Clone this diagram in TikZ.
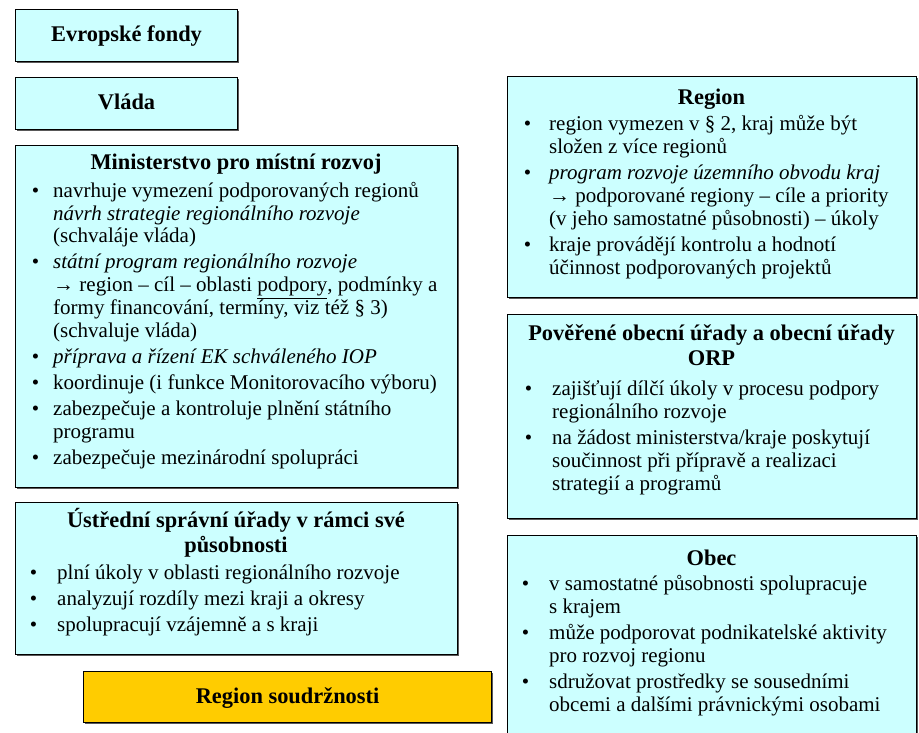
\documentclass[tikz,border=0pt]{standalone}
\usepackage{fontspec}
\setmainfont{Liberation Serif}
\usetikzlibrary{shadows,calc}
\definecolor{boxcyan}{HTML}{CCFFFF}
\definecolor{boxgold}{HTML}{FFCC00}
\newcommand\bl[1]{\llap{\textbullet\hspace{#1}}}
\tikzset{
  cbox/.style={draw=black, line width=1.1pt, fill=boxcyan, anchor=north west, inner sep=0pt,
    general shadow={fill=black!65, shadow xshift=1.2pt, shadow yshift=-1.2pt}},
  gbox/.style={cbox, fill=boxgold},
  ttl/.style={inner sep=0pt, anchor=base, font=\fontsize{22.4}{25}\selectfont\bfseries},
  lst/.style={inner sep=0pt, anchor=base west, font=\fontsize{21}{23}\selectfont},
}
\begin{document}
\begin{tikzpicture}[x=1pt, y=-1pt]
\useasboundingbox (0,0) rectangle (919,733);
\clip (0,0) rectangle (919,733);

% left column
\node[cbox, minimum width=222pt, minimum height=52pt] (ef) at (15,9) {};
\node[ttl] (eft) at ($(ef.center)+(0,6)$) {Evropské fondy};

\node[cbox, minimum width=222pt, minimum height=52pt] (vl) at (15,77) {};
\node[ttl] (vlt) at ($(vl.center)+(0,6)$) {Vláda};

\node[cbox, minimum width=442pt, minimum height=342pt] (min) at (15,145) {};
\node[ttl] (mint) at (236,170) {Ministerstvo pro místní rozvoj};
\node[lst] (minl) at (53,197) {\begin{tabular}[t]{@{}l@{}}
\bl{14pt}navrhuje vymezení podporovaných regionů\\
\textit{návrh strategie regionálního rozvoje}\\
(schvaláje vláda)\\[3pt]
\bl{14pt}\textit{státní program regionálního rozvoje}\\
→ region – cíl – oblasti \underline{podpory}, podmínky a\\
formy financování, termíny, viz též § 3)\\
(schvaluje vláda)\\[3pt]
\bl{14pt}\textit{příprava a řízení EK schváleného IOP}\\[3pt]
\bl{14pt}koordinuje (i funkce Monitorovacího výboru)\\[3pt]
\bl{14pt}zabezpečuje a kontroluje plnění státního\\
programu\\[3pt]
\bl{14pt}zabezpečuje mezinárodní spolupráci
\end{tabular}};

\node[cbox, minimum width=442pt, minimum height=152pt] (ust) at (15,502) {};
\node[ttl] (ustt) at (236,527) {\begin{tabular}[t]{@{}c@{}}Ústřední správní úřady v rámci své\\ působnosti\end{tabular}};
\node[lst] (ustl) at (57,579) {\begin{tabular}[t]{@{}l@{}}
\bl{20pt}plní úkoly v oblasti regionálního rozvoje\\[3pt]
\bl{20pt}analyzují rozdíly mezi kraji a okresy\\[3pt]
\bl{20pt}spolupracují vzájemně a s kraji
\end{tabular}};

\node[gbox, minimum width=408pt, minimum height=51pt] (rs) at (83,671) {};
\node[ttl] (rst) at ($(rs.center)+(0,6)$) {Region soudržnosti};

% right column
\node[cbox, minimum width=409pt, minimum height=221pt] (reg) at (507,76) {};
\node[ttl] (regt) at (711.5,105) {Region};
\node[lst] (regl) at (549,131) {\begin{tabular}[t]{@{}l@{}}
\bl{18pt}region vymezen v § 2, kraj může být\\
složen z více regionů\\[3pt]
\bl{18pt}\textit{program rozvoje územního obvodu kraj}\\
→ podporované regiony – cíle a priority\\
(v jeho samostatné působnosti) – úkoly\\[3pt]
\bl{18pt}kraje provádějí kontrolu a hodnotí\\
účinnost podporovaných projektů
\end{tabular}};

\node[cbox, minimum width=409pt, minimum height=204pt] (pov) at (507,314) {};
\node[ttl] (povt) at (711.5,340) {\begin{tabular}[t]{@{}c@{}}Pověřené obecní úřady a obecní úřady\\ ORP\end{tabular}};
\node[lst] (povl) at (552,395) {\begin{tabular}[t]{@{}l@{}}
\bl{20pt}zajišťují dílčí úkoly v procesu podpory\\
regionálního rozvoje\\[3pt]
\bl{20pt}na žádost ministerstva/kraje poskytují\\
součinnost při přípravě a realizaci\\
strategií a programů
\end{tabular}};

\node[cbox, minimum width=409pt, minimum height=240pt] (obec) at (507,535) {};
\node[ttl] (obect) at (711.5,565) {Obec};
\node[lst] (obecl) at (549,590) {\begin{tabular}[t]{@{}l@{}}
\bl{20pt}v samostatné působnosti spolupracuje\\
s krajem\\[3pt]
\bl{20pt}může podporovat podnikatelské aktivity\\
pro rozvoj regionu\\[3pt]
\bl{20pt}sdružovat prostředky se sousedními\\
obcemi a dalšími právnickými osobami
\end{tabular}};
\end{tikzpicture}
\end{document}
